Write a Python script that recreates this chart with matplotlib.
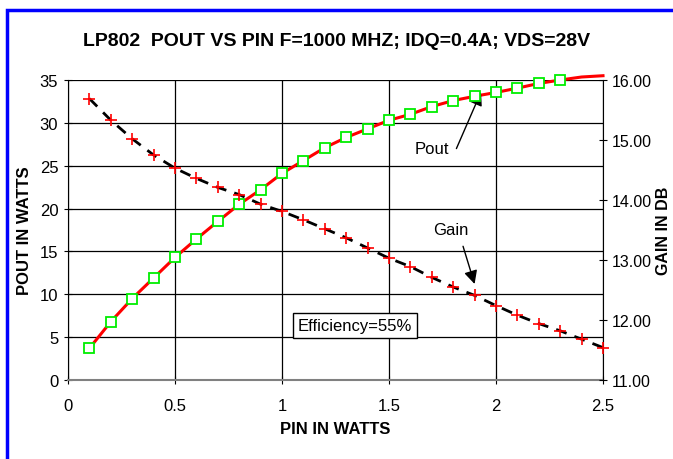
import matplotlib.pyplot as plt
from matplotlib.patches import Rectangle

plt.rcParams['font.family'] = ['Liberation Sans Narrow', 'Liberation Sans', 'DejaVu Sans']

# Data
pin = [0.1, 0.2, 0.3, 0.4, 0.5, 0.6, 0.7, 0.8, 0.9, 1.0, 1.1, 1.2, 1.3,
       1.4, 1.5, 1.6, 1.7, 1.8, 1.9, 2.0, 2.1, 2.2, 2.3, 2.4, 2.5]
pout = [3.7, 6.8, 9.5, 11.9, 14.3, 16.45, 18.5, 20.5, 22.2, 24.1, 25.6, 27.1, 28.3,
        29.3, 30.3, 31.0, 31.9, 32.6, 33.1, 33.55, 34.05, 34.6, 35.0, 35.35, 35.5]
pout_marked = 23  # squares drawn only up to 2.3 W
gain = [15.69, 15.33, 15.02, 14.75, 14.53, 14.36, 14.21, 14.09, 13.93, 13.81, 13.67,
        13.52, 13.37, 13.2, 13.03, 12.89, 12.71, 12.55, 12.41, 12.24, 12.08, 11.94,
        11.82, 11.68, 11.54]

x_ticks = [0, 0.5, 1, 1.5, 2, 2.5]
x_labels = ["0", "0.5", "1", "1.5", "2", "2.5"]
left_ticks = [0, 5, 10, 15, 20, 25, 30, 35]
right_ticks = [11, 12, 13, 14, 15, 16]

fig = plt.figure(figsize=(6.73, 4.6), dpi=100)
fig.patches.append(Rectangle((7 / 673, -0.1), 1.2, 1 - 10.5 / 460 + 0.1,
                             transform=fig.transFigure, fill=False,
                             edgecolor="#0000ff", linewidth=2.5))

ax = fig.add_axes([68 / 673, 1 - 381 / 460, 535 / 673, 300 / 460])
ax2 = ax.twinx()

# Pout curve (left axis)
ax.plot(pin, pout, color="red", linewidth=2.2, zorder=3, clip_on=False)
ax.plot(pin[:pout_marked], pout[:pout_marked], linestyle="none", marker="s",
        markersize=7, markerfacecolor="white", markeredgecolor="#00ee00",
        markeredgewidth=1.3, zorder=4, clip_on=False)

# Gain curve (right axis)
ax2.plot(pin, gain, color="black", linewidth=2, linestyle=(0, (4, 3)), zorder=3,
         clip_on=False)
ax2.plot(pin, gain, linestyle="none", marker="+", markersize=8,
         markeredgecolor="red", markeredgewidth=1.2, zorder=4, clip_on=False)

ax.set_xlim(0, 2.5)
ax.set_ylim(0, 35)
ax2.set_ylim(11, 16)
ax.set_xticks(x_ticks)
ax.set_xticklabels(x_labels)
ax.set_yticks(left_ticks)
ax2.set_yticks(right_ticks)
ax2.set_yticklabels([f"{v:.2f}" for v in right_ticks])

ax.grid(True, color="black", linewidth=0.9)
ax.spines["top"].set_visible(False)
ax2.spines["top"].set_visible(False)
ax.spines["bottom"].set_color("#808080")
ax.spines["bottom"].set_linewidth(1.5)
ax2.spines["bottom"].set_visible(False)
ax2.spines["left"].set_visible(False)
ax.spines["right"].set_visible(False)

ax.tick_params(direction="inout", length=6, labelsize=12, pad=4)
ax2.tick_params(direction="inout", length=6, labelsize=11.5, pad=3)
ax.tick_params(axis="x", pad=10)

ax.set_xlabel("PIN IN WATTS", fontsize=12, fontweight="bold", labelpad=6)
ax.set_ylabel("POUT IN WATTS", fontsize=12, fontweight="bold")
ax2.set_ylabel("GAIN IN DB", fontsize=11.5, fontweight="bold")
ax.yaxis.set_label_coords(-36 / 535, 0.5)
ax2.yaxis.set_label_coords(1 + 53 / 535, 0.5)
fig.text(0.5, 1 - 42 / 460, "LP802  POUT VS PIN F=1000 MHZ; IDQ=0.4A; VDS=28V",
         ha="center", va="center", fontsize=14, fontweight="bold")

# Annotations
ax.text(1.70, 27.0, "Pout", fontsize=12, ha="center", va="center")
ax.annotate("", xy=(1.93, 33.6), xytext=(1.815, 27.0),
            arrowprops=dict(arrowstyle="-|>", color="black", lw=1,
                            mutation_scale=20, shrinkA=0, shrinkB=0))
ax.text(1.79, 17.5, "Gain", fontsize=12, ha="center", va="center")
ax.annotate("", xy=(1.90, 11.2), xytext=(1.846, 15.6),
            arrowprops=dict(arrowstyle="-|>", color="black", lw=1,
                            mutation_scale=20, shrinkA=0, shrinkB=0))
ax.text(1.34, 6.4, "Efficiency=55%", fontsize=12, ha="center", va="center",
        bbox=dict(boxstyle="square,pad=0.3", facecolor="white",
                  edgecolor="black", linewidth=1), zorder=5)

fig.savefig("out.png", dpi=100)
